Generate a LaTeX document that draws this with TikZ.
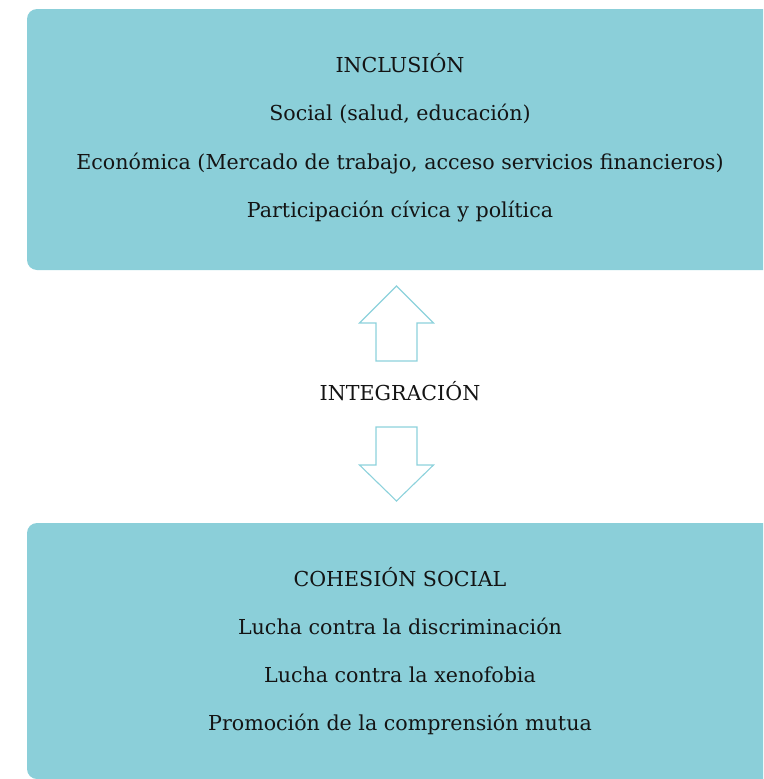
\documentclass[tikz,border=0pt]{standalone}
\usepackage{fontspec}
\setmainfont{DejaVu Serif}
\usetikzlibrary{positioning}
\definecolor{panelteal}{HTML}{8BCFD9}
\definecolor{arrowteal}{HTML}{8DD2DC}

\begin{document}
\begin{tikzpicture}[x=1pt,y=-1pt,
    panel/.style={fill=panelteal,rounded corners=10pt},
    line/.style={font=\fontsize{20.6}{25}\selectfont,text=black!92,inner sep=0pt,anchor=base},
    blockarrow/.style={draw=arrowteal,line width=1.1pt,fill=white}]
    \useasboundingbox (0,0) rectangle (763,779);
    \clip (0,0) rectangle (763,779);
    % Upper panel
    \fill[panel] (27,9) rectangle (785,270);
    \node[line] (incl) at (400,72) {INCLUSIÓN};
    \node[line] (social) at (400,120.5) {Social (salud, educación)};
    \node[line] (econ) at (400,169) {Económica (Mercado de trabajo, acceso servicios financieros)};
    \node[line] (civic) at (400,217.5) {Participación cívica y política};
    % Middle label with the two block arrows
    \node[line] (integ) at (400,400) {INTEGRACIÓN};
    \draw[blockarrow] (396.5,286) -- (433.5,323) -- (417,323) -- (417,361)
        -- (376,361) -- (376,323) -- (359.5,323) -- cycle;
    \draw[blockarrow] (376,427) -- (417,427) -- (417,465) -- (433.5,465)
        -- (396.5,501) -- (359.5,465) -- (376,465) -- cycle;
    % Lower panel
    \fill[panel] (27,523) rectangle (785,779);
    \node[line] (cohes) at (400,586.5) {COHESIÓN SOCIAL};
    \node[line] (discr) at (400,634.5) {Lucha contra la discriminación};
    \node[line] (xeno) at (400,682.5) {Lucha contra la xenofobia};
    \node[line] (promo) at (400,730.5) {Promoción de la comprensión mutua};
\end{tikzpicture}
\end{document}
